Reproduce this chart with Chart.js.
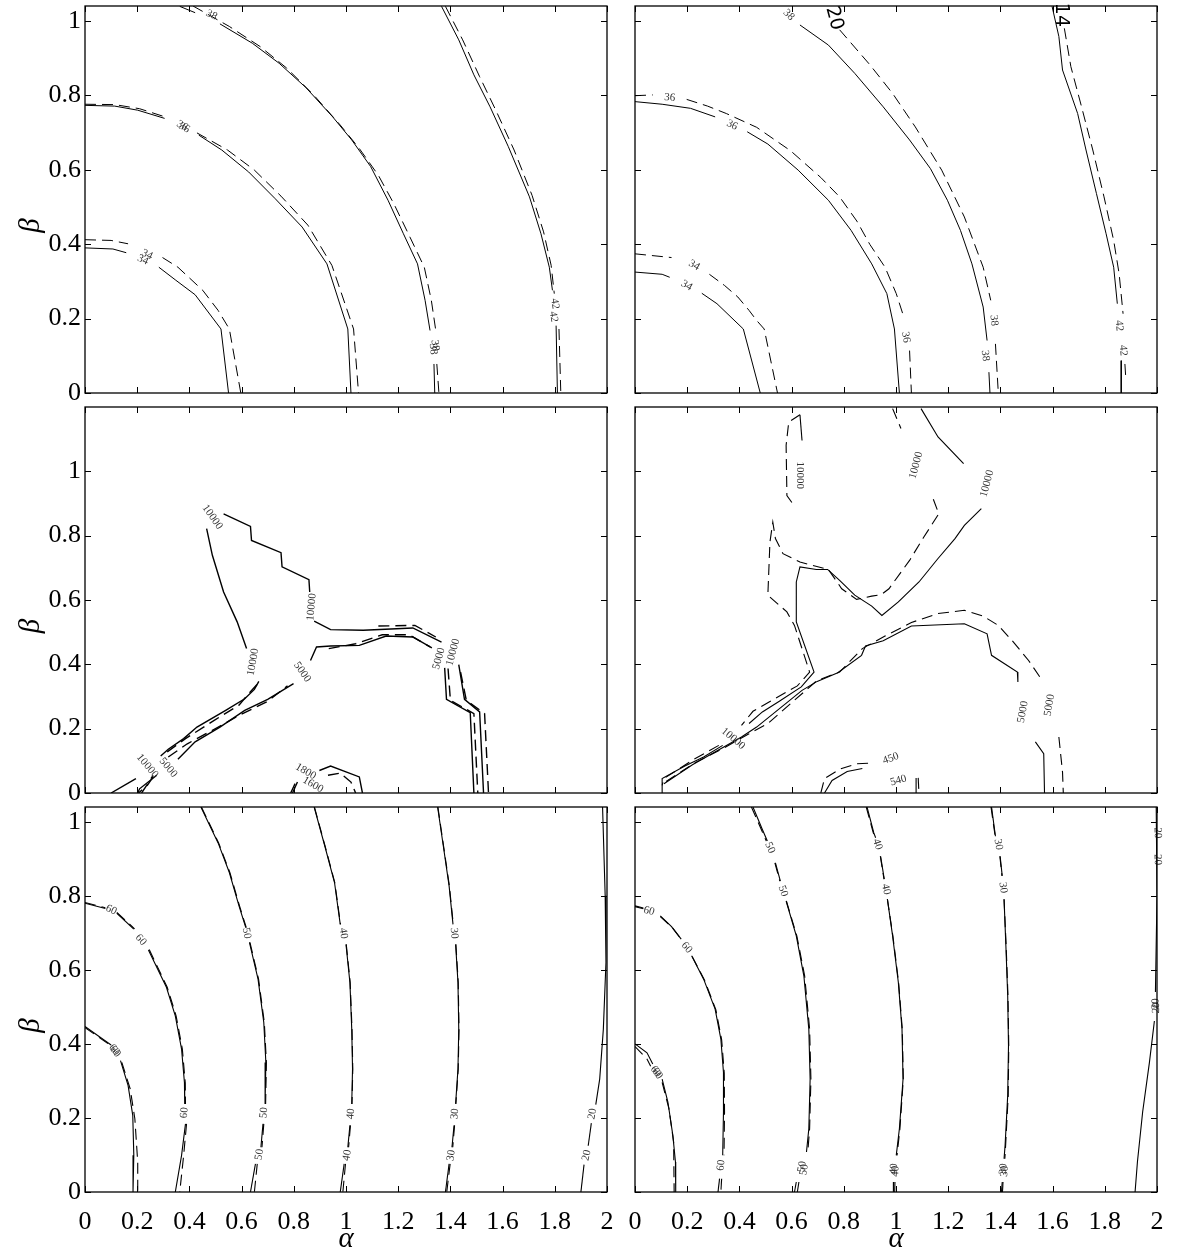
<!DOCTYPE html>
<html>
<head>
<meta charset="utf-8">
<script src="https://cdn.jsdelivr.net/npm/chart.js@4.4.1/dist/chart.umd.min.js"></script>
<style>
  html, body { margin: 0; padding: 0; background: #fff; }
  #page { position: relative; width: 1182px; height: 1258px; overflow: hidden; }
  #page canvas { position: absolute; }
</style>
</head>
<body>
<div id="page"></div>
<script>
// axis ticks shared by every panel
const alphaTicks = [0, 0.2, 0.4, 0.6, 0.8, 1, 1.2, 1.4, 1.6, 1.8, 2];
const betaTicks = [0, 0.2, 0.4, 0.6, 0.8, 1];
const betaMaxOuter = 1.04;
const betaMaxMid = 1.2;

// contour polylines as [alpha, beta]; null marks a break where a label sits
// --- top left
const tl34 = [[0,0.390],[0.107,0.387],[0.158,0.377],null,[0.283,0.338],[0.348,0.303],[0.422,0.264],[0.521,0.172],[0.550,0]];
const tl34d = [[0,0.412],[0.100,0.410],[0.165,0.401],null,[0.297,0.364],[0.356,0.338],[0.451,0.276],[0.510,0.222],[0.553,0.172],[0.597,0]];
const tl36 = [[0,0.773],[0.114,0.771],[0.202,0.760],[0.305,0.738],null,[0.436,0.693],[0.524,0.653],[0.627,0.594],[0.729,0.522],[0.832,0.446],[0.927,0.347],[1.007,0.172],[1.019,0]];
const tl36d = [[0,0.776],[0.114,0.775],[0.209,0.764],[0.307,0.742],null,[0.429,0.699],[0.546,0.653],[0.649,0.599],[0.751,0.529],[0.854,0.451],[0.946,0.343],[1.029,0.172],[1.048,0]];
const tl38 = [[0.363,1.039],[0.422,1.022],null,[0.517,0.992],[0.641,0.940],[0.744,0.886],[0.846,0.821],[0.949,0.742],[1.022,0.680],[1.095,0.608],[1.161,0.518],[1.220,0.428],[1.274,0.347],[1.303,0.249],[1.322,0.168],null,[1.337,0.078],[1.340,0]];
const tl38d = [[0.414,1.040],[0.553,0.985],[0.671,0.931],[0.773,0.873],[0.876,0.801],[0.978,0.720],[1.051,0.657],[1.124,0.585],[1.183,0.509],[1.245,0.419],[1.300,0.338],[1.327,0.249],[1.344,0.168],null,[1.348,0.078],[1.356,0]];
const tl42 = [[1.366,1.039],[1.432,0.949],[1.490,0.855],[1.552,0.769],[1.622,0.662],[1.703,0.527],[1.747,0.428],[1.779,0.338],[1.791,0.276],null,[1.805,0.181],[1.810,0]];
const tl42d = [[1.381,1.039],[1.447,0.949],[1.512,0.850],[1.574,0.760],[1.644,0.653],[1.713,0.531],[1.757,0.433],[1.786,0.343],[1.798,0.267],null,[1.816,0.172],[1.823,0]];
const tlLabels = [[0.222,0.358,'34',24],[0.238,0.372,'34',24],[0.372,0.718,'36',30],[0.380,0.713,'36',30],[0.485,1.016,'38',28],
  [1.334,0.118,'38',83],[1.341,0.128,'38',83],[1.795,0.205,'42',82],[1.800,0.240,'42',82]];

// --- top right
const tr34 = [[0,0.325],[0.104,0.319],[0.133,0.311],null,[0.256,0.268],[0.314,0.240],[0.415,0.172],[0.480,0]];
const tr34d = [[0,0.374],[0.140,0.364],null,[0.285,0.319],[0.343,0.289],[0.394,0.258],[0.437,0.222],[0.466,0.195],[0.495,0.172],[0.546,0]];
const tr36 = [[0,0.783],[0.104,0.776],[0.213,0.765],[0.307,0.742],null,[0.430,0.702],[0.509,0.669],[0.625,0.599],[0.741,0.518],[0.828,0.437],[0.907,0.347],[0.965,0.267],[0.994,0.172],[1.013,0]];
const tr36d = [[0,0.799],[0.068,0.801],null,[0.198,0.789],[0.278,0.771],[0.350,0.751],[0.466,0.714],[0.596,0.651],[0.712,0.579],[0.784,0.527],[0.850,0.462],[0.900,0.399],[0.958,0.338],[1.001,0.267],[1.030,0.204],null,[1.052,0.114],[1.059,0]];
const tr38 = [[0.632,0.989],[0.741,0.935],[0.842,0.859],[0.951,0.769],[1.052,0.680],[1.132,0.603],[1.197,0.518],[1.247,0.437],[1.291,0.347],[1.334,0.231],[1.349,0.141],null,[1.356,0.056],[1.360,0]];
const tr38d = [[0.784,0.976],[0.900,0.882],[0.987,0.805],[1.074,0.715],[1.175,0.599],[1.262,0.473],[1.334,0.338],[1.363,0.249],null,[1.381,0.132],[1.392,0]];
const tr42 = [[1.598,1.039],[1.624,0.958],[1.638,0.868],[1.696,0.751],[1.728,0.653],[1.768,0.536],[1.805,0.428],[1.834,0.338],[1.848,0.240],null,[1.863,0.087],[1.863,0]];
const tr42d = [[1.645,0.980],[1.670,0.877],[1.711,0.769],[1.754,0.653],[1.797,0.527],[1.834,0.410],[1.855,0.320],[1.870,0.213],null,[1.877,0.078],[1.881,0.033]];
const trLabels = [[0.133,0.794,'36',5],[0.372,0.720,'36',25],[0.227,0.343,'34',30],[0.198,0.289,'34',30],[0.589,1.016,'38',45],
  [1.038,0.150,'36',80],[1.375,0.195,'38',84],[1.342,0.100,'38',84],[1.855,0.181,'42',85],[1.870,0.114,'42',85]];
const trMarks = [[0.763,1.007,'20',75],[1.631,1.016,'14',90]];

// --- middle left
const ml10000a = [[0.531,0.868],[0.634,0.829],[0.638,0.785],[0.751,0.747],[0.755,0.703],[0.858,0.663],[0.861,0.625],null,[0.878,0.534],[0.941,0.508],[1.066,0.506],[1.256,0.513],[1.366,0.469],null,[1.432,0.399],[1.454,0.291],[1.512,0.252],[1.527,0]];
const ml10000b = [[0.466,0.822],[0.488,0.739],[0.531,0.625],[0.583,0.532],[0.619,0.449],null,[0.666,0.347],[0.649,0.322],[0.612,0.293],[0.539,0.257],[0.429,0.205],[0.378,0.169],[0.319,0.136],[0.290,0.115],null,[0.195,0.045],[0.100,0]];
const ml10000ad = [[1.124,0.519],[1.264,0.521],[1.344,0.485],null,[1.439,0.376],[1.461,0.288],[1.531,0.247],[1.546,0]];
const ml10000bd = [[0.659,0.337],[0.627,0.309],[0.590,0.273],[0.495,0.226],[0.385,0.169],[0.305,0.122],null,[0.261,0.050],[0.239,0.024],[0.205,0]];
const ml5000 = [[0.202,0],[0.209,0.013],[0.275,0.055],null,[0.356,0.105],[0.422,0.159],[0.517,0.205],[0.612,0.257],[0.700,0.291],[0.799,0.340],null,[0.864,0.412],[0.887,0.454],[0.941,0.457],[1.051,0.459],[1.154,0.488],[1.256,0.485],[1.329,0.451],null,[1.378,0.389],[1.385,0.291],[1.476,0.250],[1.490,0]];
const ml5000d = [[0.217,0],[0.261,0.055],null,[0.319,0.112],[0.392,0.153],[0.488,0.195],[0.590,0.241],[0.700,0.285],[0.776,0.333],null,[0.934,0.449],[1.037,0.464],[1.139,0.492],[1.242,0.492],[1.322,0.454],null,[1.391,0.387],[1.400,0.288],[1.490,0.247],[1.505,0]];
const ml1800 = [[0.898,0.070],[0.941,0.084],[1.051,0.050],[1.063,0]];
const ml1600d = [[0.931,0.055],[0.978,0.062],[1.019,0.034],[1.037,0]];
const ml1800b = [[0.795,0],[0.814,0.034]];
const ml1600bd = [[0.788,0],[0.805,0.029]];
const mlLabels = [[0.488,0.858,'10000',55],[0.868,0.578,'10000',-85],[0.644,0.407,'10000',-80],[0.832,0.376,'5000',55],
  [1.356,0.418,'5000',-75],[1.410,0.438,'10000',-75],[0.239,0.084,'10000',50],[0.319,0.079,'5000',50],
  [0.846,0.067,'1800',30],[0.873,0.026,'1600',30]];

// --- middle right
const mr10000loopd = [[0.601,0.903],[0.582,0.925],[0.579,1.081],[0.589,1.153],[0.632,1.176]];
const mr10000loop = [[0.632,1.176],[0.640,1.096]];
const mr10000topd = [[0.987,1.195],[1.019,1.133]];
const mr10000top = [[1.096,1.195],[1.161,1.107],[1.259,1.024]];
const mr10000d = [[1.143,0.913],[1.164,0.868],[1.103,0.791],[1.052,0.723],[0.973,0.635],[0.944,0.617],[0.907,0.612],[0.849,0.602],[0.792,0.635],[0.741,0.695],[0.632,0.718],[0.567,0.744],[0.538,0.791],[0.528,0.842],[0.517,0.780],[0.509,0.615],[0.582,0.563],[0.611,0.521],[0.669,0.376],[0.622,0.333],[0.524,0.288],[0.452,0.254],[0.408,0.210],null,[0.321,0.148],[0.220,0.102],[0.111,0.045],[0.104,0.024]];
const mr10000 = [[1.327,0.884],[1.262,0.832],[1.226,0.791],[1.161,0.729],[1.088,0.656],[1.009,0.594],[0.946,0.552],[0.907,0.581],[0.842,0.615],[0.784,0.661],[0.738,0.695],[0.695,0.695],[0.632,0.703],[0.618,0.656],[0.618,0.532],[0.686,0.376],[0.637,0.330],[0.553,0.285],[0.488,0.252],[0.437,0.216],null,[0.336,0.148],[0.263,0.112],[0.191,0.084],[0.104,0.045],[0.104,0]];
const mr5000 = [[0.111,0.029],[0.220,0.088],[0.408,0.174],[0.466,0.205],[0.640,0.319],[0.698,0.347],[0.777,0.374],[0.868,0.428],[0.883,0.457],[0.951,0.473],[1.059,0.519],[1.262,0.526],[1.349,0.495],[1.366,0.428],[1.465,0.376],[1.467,0.345],null,[1.534,0.159],[1.566,0.122],[1.569,0]];
const mr5000d = [[0.119,0.036],[0.234,0.096],[0.336,0.138],[0.437,0.184],[0.509,0.216],[0.698,0.350],[0.784,0.376],[0.871,0.449],[0.958,0.488],[1.059,0.530],[1.161,0.558],[1.262,0.568],[1.334,0.550],[1.392,0.521],[1.450,0.469],[1.508,0.412],[1.551,0.361],null,[1.624,0.174],[1.638,0.065],[1.641,0]];
const mr450d = [[0.712,0],[0.726,0.045],[0.784,0.074],[0.849,0.091],[0.907,0.093]];
const mr540 = [[0.726,0],[0.755,0.039],[0.813,0.067],[0.871,0.076]];
const mr540b = [[1.077,0.047],[1.077,0]];
const mr450bd = [[1.085,0.047],[1.088,0]];
const mrLabels = [[0.632,0.988,'10000',90],[1.077,1.019,'10000',-75],[1.349,0.962,'10000',-75],[0.376,0.169,'10000',40],
  [1.486,0.252,'5000',-80],[1.588,0.273,'5000',-80],[0.980,0.107,'450',-20],[1.009,0.039,'540',-15]];

// --- bottom left
const bl60a = [[0,0.780],[0.078,0.766],null,[0.122,0.753],[0.187,0.710],null,[0.243,0.654],[0.312,0.553],[0.346,0.476],[0.370,0.386],[0.381,0.296],[0.382,0.238],null,[0.385,0.184],[0.370,0.099],[0.346,0]];
const bl60ad = [[0,0.782],[0.078,0.768],null,[0.122,0.755],[0.190,0.711],null,[0.246,0.655],[0.315,0.553],[0.349,0.476],[0.373,0.386],[0.384,0.296],[0.385,0.238],null,[0.389,0.184],[0.378,0.099],[0.363,0]];
const bl60b = [[0,0.447],[0.100,0.397],null,[0.136,0.355],[0.165,0.288],[0.183,0.207],[0.187,0.099],[0.184,0]];
const bl60bd = [[0,0.444],[0.100,0.395],null,[0.141,0.350],[0.173,0.279],[0.191,0.198],[0.202,0.081],[0.202,0]];
const bl50 = [[0.444,1.040],[0.510,0.943],[0.553,0.863],[0.590,0.773],[0.616,0.714],null,[0.630,0.674],[0.663,0.575],[0.685,0.458],[0.693,0.350],[0.690,0.238],null,[0.682,0.184],[0.674,0.121],null,[0.653,0.076],[0.634,0]];
const bl50d = [[0.446,1.040],[0.512,0.943],[0.555,0.863],[0.592,0.773],[0.618,0.714],null,[0.632,0.674],[0.665,0.575],[0.687,0.458],[0.695,0.350],[0.692,0.238],null,[0.685,0.184],[0.678,0.121],null,[0.660,0.076],[0.649,0]];
const bl40 = [[0.878,1.040],[0.919,0.934],[0.956,0.836],[0.978,0.723],null,[1.000,0.669],[1.015,0.566],[1.022,0.440],[1.025,0.332],[1.022,0.238],null,[1.015,0.180],[1.007,0.121],null,[0.993,0.076],[0.978,0]];
const bl40d = [[0.879,1.040],[0.920,0.934],[0.957,0.836],[0.979,0.723],null,[1.001,0.669],[1.016,0.566],[1.023,0.440],[1.026,0.332],[1.023,0.238],null,[1.017,0.180],[1.010,0.121],null,[0.998,0.076],[0.988,0]];
const bl30 = [[1.351,1.040],[1.373,0.934],[1.395,0.827],[1.410,0.723],null,[1.420,0.669],[1.429,0.566],[1.432,0.440],[1.429,0.332],[1.420,0.238],null,[1.414,0.180],[1.406,0.121],null,[1.395,0.076],[1.381,0]];
const bl30d = [[1.352,1.040],[1.374,0.934],[1.396,0.827],[1.411,0.723],null,[1.421,0.669],[1.430,0.566],[1.433,0.440],[1.430,0.332],[1.421,0.238],null,[1.416,0.180],[1.409,0.121],null,[1.399,0.076],[1.386,0]];
const bl20 = [[1.983,1.040],[1.993,0.8],[1.996,0.62],[1.986,0.44],[1.972,0.305],[1.957,0.236],null,[1.940,0.186],[1.928,0.125],null,[1.912,0.074],[1.900,0]];
const blLabels = [[0.100,0.762,'60',25],[0.214,0.681,'60',50],[0.112,0.384,'60',50],[0.116,0.379,'60',50],
  [0.619,0.699,'50',80],[0.990,0.699,'40',82],[1.414,0.699,'30',85],
  [0.381,0.214,'60',-85],[0.685,0.214,'50',-85],[1.019,0.211,'40',-85],[1.417,0.211,'30',-85],[1.944,0.211,'20',-80],
  [0.668,0.101,'50',-80],[1.004,0.099,'40',-80],[1.403,0.099,'30',-82],[1.922,0.099,'20',-78]];

// --- bottom right
const br60a = [[0,0.773],[0.032,0.767],null,[0.097,0.746],[0.140,0.717],[0.177,0.683],null,[0.217,0.638],[0.263,0.575],[0.307,0.494],[0.329,0.413],[0.339,0.323],[0.339,0.216],[0.336,0.099],null,[0.324,0.036],[0.318,0]];
const br60ad = [[0,0.771],[0.032,0.765],null,[0.097,0.744],[0.142,0.715],[0.179,0.681],null,[0.219,0.636],[0.266,0.573],[0.310,0.492],[0.332,0.411],[0.342,0.321],[0.343,0.216],[0.341,0.099],null,[0.332,0.036],[0.329,0]];
const br60b = [[0,0.400],[0.046,0.376],[0.068,0.346],null,[0.104,0.305],[0.126,0.243],[0.145,0.153],[0.155,0.081],[0.156,0]];
const br60bd = [[0,0.393],[0.046,0.359],[0.060,0.340],null,[0.104,0.296],[0.130,0.225],[0.148,0.135],[0.150,0]];
const br50 = [[0.452,1.040],[0.488,0.979],[0.507,0.948],null,[0.538,0.889],[0.557,0.840],null,[0.579,0.786],[0.618,0.692],[0.647,0.584],[0.666,0.440],[0.671,0.305],[0.666,0.171],[0.657,0.108],null,[0.618,0.027],[0.611,0]];
const br50d = [[0.446,1.040],[0.484,0.979],[0.503,0.948],null,[0.536,0.889],[0.555,0.840],null,[0.580,0.786],[0.620,0.692],[0.650,0.584],[0.669,0.440],[0.674,0.305],[0.669,0.171],[0.662,0.108],null,[0.628,0.027],[0.622,0]];
const br40 = [[0.889,1.040],[0.915,0.970],[0.922,0.957],null,[0.941,0.907],[0.955,0.845],null,[0.967,0.791],[0.987,0.692],[1.009,0.566],[1.023,0.440],[1.027,0.305],[1.013,0.171],[1.001,0.099],null,[0.991,0.027],[0.990,0]];
const br40d = [[0.886,1.040],[0.913,0.970],[0.920,0.957],null,[0.940,0.907],[0.954,0.845],null,[0.967,0.791],[0.988,0.692],[1.010,0.566],[1.024,0.440],[1.028,0.305],[1.015,0.171],[1.004,0.099],null,[0.996,0.027],[0.995,0]];
const br30 = [[1.366,1.040],[1.381,0.961],null,[1.399,0.907],[1.407,0.854],null,[1.414,0.791],[1.421,0.665],[1.428,0.530],[1.431,0.395],[1.428,0.261],[1.418,0.126],[1.414,0.090],null,[1.407,0.027],[1.404,0]];
const br30d = [[1.364,1.040],[1.380,0.961],null,[1.398,0.907],[1.406,0.854],null,[1.414,0.791],[1.422,0.665],[1.429,0.530],[1.432,0.395],[1.430,0.261],[1.420,0.126],[1.417,0.090],null,[1.410,0.027],[1.408,0]];
const br20 = [[1.997,1.040],[2.0,0.8],[1.994,0.540],null,[1.990,0.462],[1.971,0.350],[1.945,0.216],[1.925,0.081],[1.916,0]];
const brLabels = [[0.054,0.759,'60',15],[0.198,0.660,'60',50],[0.080,0.325,'60',55],[0.085,0.320,'60',55],[0.330,0.072,'60',-85],
  [0.517,0.930,'50',66],[0.567,0.813,'50',72],[0.640,0.068,'50',-80],[0.648,0.060,'50',-80],
  [0.929,0.939,'40',72],[0.962,0.818,'40',78],[0.992,0.062,'40',-85],[0.998,0.056,'40',-85],
  [1.392,0.939,'30',80],[1.410,0.822,'30',84],[1.411,0.062,'30',-85],[1.416,0.056,'30',-85],
  [2.002,0.970,'20',88],[2.002,0.898,'20',88],[1.995,0.508,'20',-88],[1.997,0.497,'20',-88]];

// panel frames on the page (px)
const colLeft = [85, 635];
const plotW = 522;
const rowTop = [6, 407, 807];
const rowH = [387, 386, 385];
const M = { l: 70, r: 30, t: 30, b: 70 };
const serif = '"Liberation Serif", "Times New Roman", serif';

const panels = [
  { col: 0, row: 0, ymax: betaMaxOuter, lw: 1, solid: [tl34, tl36, tl38, tl42], dashed: [tl34d, tl36d, tl38d, tl42d], labels: tlLabels },
  { col: 1, row: 0, ymax: betaMaxOuter, lw: 1, solid: [tr34, tr36, tr38, tr42], dashed: [tr34d, tr36d, tr38d, tr42d], labels: trLabels, marks: trMarks },
  { col: 0, row: 1, ymax: betaMaxMid, lw: 1.4, solid: [ml10000a, ml10000b, ml5000, ml1800, ml1800b], dashed: [ml10000ad, ml10000bd, ml5000d, ml1600d, ml1600bd], labels: mlLabels },
  { col: 1, row: 1, ymax: betaMaxMid, lw: 1.1, solid: [mr10000loop, mr10000top, mr10000, mr5000, mr540, mr540b], dashed: [mr10000loopd, mr10000topd, mr10000d, mr5000d, mr450d, mr450bd], labels: mrLabels },
  { col: 0, row: 2, ymax: betaMaxOuter, lw: 1.1, solid: [bl60a, bl60b, bl50, bl40, bl30, bl20], dashed: [bl60ad, bl60bd, bl50d, bl40d, bl30d], labels: blLabels },
  { col: 1, row: 2, ymax: betaMaxOuter, lw: 1.1, solid: [br60a, br60b, br50, br40, br30, br20], dashed: [br60ad, br60bd, br50d, br40d, br30d], labels: brLabels }
];

// split a polyline at its null entries
function runs(line) {
  const out = [];
  let cur = [];
  line.forEach(p => {
    if (p === null) { if (cur.length) out.push(cur); cur = []; }
    else cur.push({ x: p[0], y: p[1] });
  });
  if (cur.length) out.push(cur);
  return out;
}

function fmtTick(v) {
  return String(Number(v.toFixed(1)));
}

// frame, inward ticks, contour labels and axis letters
function decor(p) {
  return {
    id: 'decor',
    afterDatasetsDraw(chart) {
      const { ctx, chartArea: a, scales: { x, y } } = chart;
      ctx.save();
      ctx.textAlign = 'center';
      ctx.textBaseline = 'middle';
      ctx.fillStyle = '#333';
      ctx.font = '11px ' + serif;
      p.labels.forEach(([ax, by, txt, rot]) => {
        ctx.save();
        ctx.translate(x.getPixelForValue(ax), y.getPixelForValue(by));
        ctx.rotate(rot * Math.PI / 180);
        ctx.fillText(txt, 0, 0);
        ctx.restore();
      });
      ctx.fillStyle = '#000';
      ctx.font = '19px "DejaVu Sans", sans-serif';
      (p.marks || []).forEach(([ax, by, txt, rot]) => {
        ctx.save();
        ctx.translate(x.getPixelForValue(ax), y.getPixelForValue(by));
        ctx.rotate(rot * Math.PI / 180);
        ctx.fillText(txt, 0, 0);
        ctx.restore();
      });

      ctx.strokeStyle = '#000';
      ctx.lineWidth = 1.3;
      ctx.strokeRect(a.left, a.top, a.width, a.height);

      ctx.lineWidth = 1;
      ctx.beginPath();
      alphaTicks.forEach(v => {
        const px = Math.round(x.getPixelForValue(v)) + 0.5;
        ctx.moveTo(px, a.bottom); ctx.lineTo(px, a.bottom - 6);
        ctx.moveTo(px, a.top); ctx.lineTo(px, a.top + 6);
      });
      betaTicks.forEach(v => {
        const py = Math.round(y.getPixelForValue(v)) + 0.5;
        ctx.moveTo(a.left, py); ctx.lineTo(a.left + 6, py);
        ctx.moveTo(a.right, py); ctx.lineTo(a.right - 6, py);
      });
      ctx.stroke();

      ctx.fillStyle = '#000';
      ctx.font = 'italic 29px ' + serif;
      if (p.col === 0) {
        ctx.save();
        ctx.translate(a.left - 54, (a.top + a.bottom) / 2 + 26);
        ctx.rotate(-Math.PI / 2);
        ctx.fillText('β', 0, 0);
        ctx.restore();
      }
      if (p.row === 2) {
        ctx.textBaseline = 'alphabetic';
        ctx.fillText('α', (a.left + a.right) / 2, a.bottom + 55);
      }
      ctx.restore();
    }
  };
}

const page = document.getElementById('page');

panels.forEach(p => {
  const canvas = document.createElement('canvas');
  canvas.width = plotW + M.l + M.r;
  canvas.height = rowH[p.row] + M.t + M.b;
  canvas.style.left = (colLeft[p.col] - M.l) + 'px';
  canvas.style.top = (rowTop[p.row] - M.t) + 'px';
  page.appendChild(canvas);

  const datasets = [];
  p.solid.forEach(line => runs(line).forEach(pts => datasets.push({
    data: pts, showLine: true, borderColor: '#000', borderWidth: p.lw,
    pointRadius: 0, fill: false, tension: 0
  })));
  p.dashed.forEach(line => runs(line).forEach(pts => datasets.push({
    data: pts, showLine: true, borderColor: '#000', borderWidth: p.lw,
    borderDash: [11, 6], pointRadius: 0, fill: false, tension: 0
  })));

  new Chart(canvas, {
    type: 'scatter',
    data: { datasets },
    options: {
      responsive: false,
      animation: false,
      devicePixelRatio: 1,
      events: [],
      layout: { padding: { left: 0, top: M.t, right: M.r, bottom: 0 } },
      plugins: { legend: { display: false }, tooltip: { enabled: false } },
      scales: {
        x: {
          type: 'linear', min: 0, max: 2,
          afterBuildTicks: s => { s.ticks = alphaTicks.map(v => ({ value: v })); },
          afterFit: s => { s.height = M.b; },
          grid: { display: false, drawTicks: false },
          border: { display: false },
          ticks: {
            display: p.row === 2, padding: 15, color: '#000', maxRotation: 0, autoSkip: false,
            font: { family: serif, size: 26 }, callback: fmtTick
          }
        },
        y: {
          type: 'linear', min: 0, max: p.ymax,
          afterBuildTicks: s => { s.ticks = betaTicks.map(v => ({ value: v })); },
          afterFit: s => { s.width = M.l; },
          grid: { display: false, drawTicks: false },
          border: { display: false },
          ticks: {
            display: p.col === 0, padding: 4, color: '#000', autoSkip: false,
            font: { family: serif, size: 26 }, callback: fmtTick
          }
        }
      }
    },
    plugins: [decor(p)]
  });
});
</script>
</body>
</html>
